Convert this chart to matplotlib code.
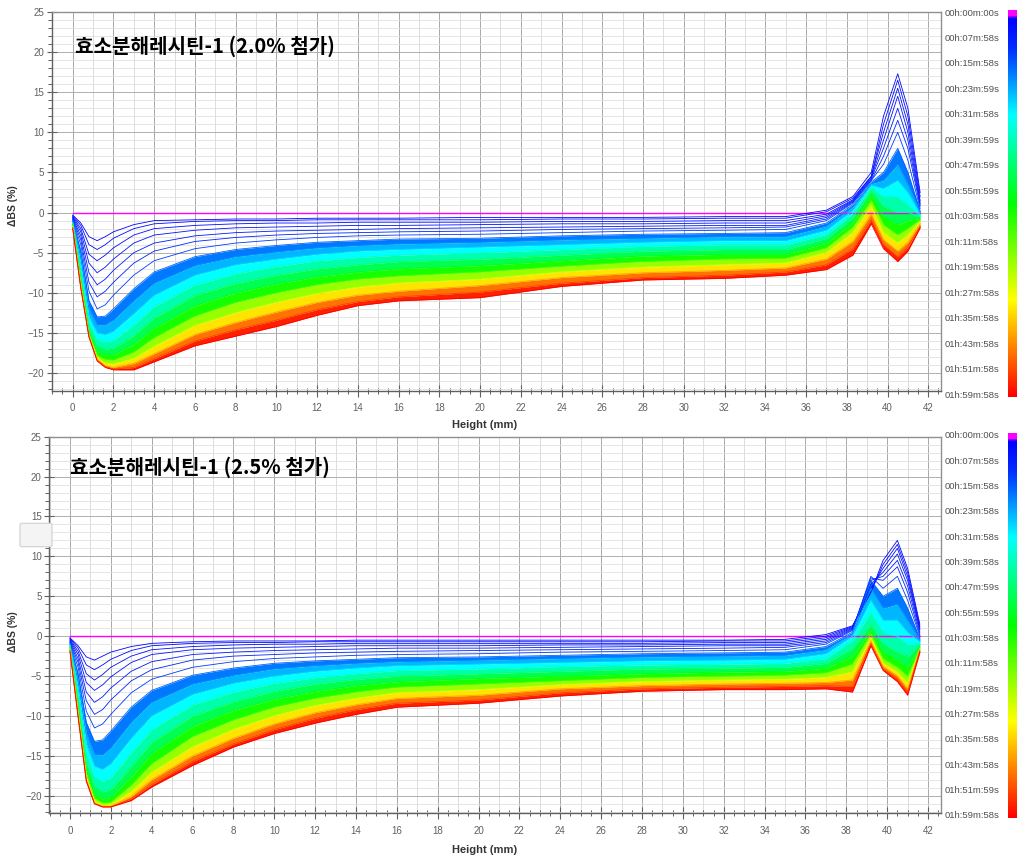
import matplotlib.pyplot as plt
import numpy as np
from matplotlib.colors import LinearSegmentedColormap
from matplotlib.ticker import MultipleLocator
from matplotlib.patches import FancyBboxPatch

# height positions (mm) where the profiles were read
heights = [0, 0.4, 0.8, 1.2, 1.6, 2, 3, 4, 6, 8, 10, 12, 14, 16, 20, 24, 28, 32,
           35, 37, 38.3, 39.2, 39.8, 40.5, 41.0, 41.6]

# scan times (min) and delta-BS profiles, 2.0 % sample
top_times = [0, 1, 2, 3, 4, 6, 8, 11, 15, 20, 27, 35, 45, 55, 68, 85, 100, 112, 120]
top_profiles = [
    [0, 0, 0, 0, 0, 0, 0, 0, 0, 0, 0, 0, 0, 0, 0, 0, 0, 0, 0, 0, 0, 0, 0, 0, 0, 0],
    [-0.3, -1.3, -3.0, -3.5, -3.0, -2.4, -1.5, -1.0, -0.9, -0.8, -0.8, -0.7, -0.7, -0.7, -0.6, -0.6, -0.6, -0.5,
     -0.5, 0.3, 2.0, 5.0, 12.0, 17.3, 13.0, 2.5],
    [-0.4, -1.6, -4.0, -4.6, -4.0, -3.2, -2.0, -1.4, -1.1, -1.0, -1.0, -0.9, -0.9, -0.9, -0.9, -0.8, -0.8, -0.7,
     -0.7, 0.1, 1.8, 4.5, 11.0, 16.5, 12.0, 2.0],
    [-0.5, -2.0, -5.2, -6.0, -5.3, -4.4, -2.8, -2.0, -1.6, -1.4, -1.3, -1.3, -1.2, -1.2, -1.2, -1.1, -1.1, -1.0,
     -1.0, -0.2, 1.6, 4.5, 10.0, 15.5, 11.0, 1.5],
    [-0.6, -2.4, -6.3, -7.5, -6.8, -5.8, -3.8, -2.8, -2.2, -1.9, -1.8, -1.7, -1.6, -1.6, -1.5, -1.4, -1.4, -1.3,
     -1.3, -0.4, 1.5, 4.3, 9.0, 14.5, 10.0, 1.2],
    [-0.7, -2.9, -7.5, -9.0, -8.3, -7.2, -5.0, -3.8, -2.9, -2.5, -2.3, -2.2, -2.1, -2.0, -1.9, -1.8, -1.7, -1.6,
     -1.6, -0.6, 1.4, 4.2, 8.0, 13.0, 9.0, 1.0],
    [-0.8, -3.4, -8.7, -10.5, -9.8, -8.7, -6.3, -4.8, -3.6, -3.1, -2.8, -2.6, -2.5, -2.4, -2.3, -2.1, -2.0, -1.9,
     -1.8, -0.8, 1.3, 4.0, 7.0, 11.5, 8.0, 0.8],
    [-0.9, -4.0, -9.8, -12.0, -11.5, -10.3, -7.8, -6.0, -4.5, -3.8, -3.4, -3.1, -2.9, -2.8, -2.7, -2.5, -2.3, -2.2,
     -2.1, -1.0, 1.2, 4.0, 6.0, 10.0, 6.5, 0.5],
    [-1.0, -4.8, -11.0, -13.0, -12.9, -12.0, -9.5, -7.4, -5.5, -4.6, -4.1, -3.7, -3.5, -3.3, -3.2, -2.9, -2.7, -2.6,
     -2.5, -1.3, 1.0, 3.8, 5.0, 8.0, 5.0, 0.2],
    [-1.1, -5.6, -12.0, -14.0, -14.0, -13.4, -11.0, -8.8, -6.6, -5.5, -4.9, -4.4, -4.1, -3.9, -3.7, -3.4, -3.2, -3.0,
     -3.0, -1.7, 0.7, 3.6, 4.0, 6.0, 3.5, 0.0],
    [-1.2, -6.5, -13.0, -15.0, -15.2, -14.8, -12.6, -10.3, -7.8, -6.5, -5.8, -5.2, -4.8, -4.6, -4.3, -4.0, -3.7, -3.5,
     -3.5, -2.2, 0.3, 3.4, 3.0, 4.0, 2.5, -0.2],
    [-1.3, -7.2, -13.8, -15.8, -16.1, -15.9, -14.0, -11.7, -9.0, -7.6, -6.7, -6.0, -5.6, -5.3, -5.0, -4.6, -4.2, -4.0,
     -4.0, -2.7, -0.1, 3.2, 2.0, 2.0, 1.0, -0.4],
    [-1.4, -7.8, -14.4, -16.6, -17.0, -16.9, -15.3, -13.1, -10.3, -8.8, -7.8, -7.0, -6.5, -6.1, -5.8, -5.3, -4.8, -4.6,
     -4.6, -3.2, -0.6, 2.8, 0.8, 0.0, 0.0, -0.5],
    [-1.5, -8.3, -14.8, -17.3, -17.7, -17.7, -16.4, -14.4, -11.6, -10.0, -8.9, -8.0, -7.4, -7.0, -6.6, -6.0, -5.4, -5.2,
     -5.2, -3.8, -1.2, 2.2, -0.5, -1.5, -1.0, -0.7],
    [-1.6, -8.7, -15.1, -17.8, -18.3, -18.4, -17.4, -15.6, -12.9, -11.2, -10.0, -9.0, -8.3, -7.9, -7.4, -6.7, -6.1, -5.8,
     -5.7, -4.4, -1.8, 1.5, -1.5, -2.8, -2.0, -0.9],
    [-1.7, -9.0, -15.3, -18.1, -18.8, -18.9, -18.2, -16.7, -14.1, -12.5, -11.2, -10.1, -9.3, -8.8, -8.3, -7.4, -6.8, -6.5,
     -6.3, -5.0, -2.5, 0.8, -2.5, -3.8, -2.8, -1.1],
    [-1.8, -9.2, -15.4, -18.3, -19.1, -19.3, -18.8, -17.6, -15.2, -13.7, -12.4, -11.2, -10.3, -9.8, -9.1, -8.1, -7.5, -7.2,
     -6.9, -5.8, -3.6, -0.2, -3.4, -4.8, -3.7, -1.4],
    [-1.9, -9.4, -15.5, -18.4, -19.2, -19.5, -19.3, -18.2, -16.0, -14.6, -13.4, -12.1, -11.1, -10.5, -9.9, -8.8, -8.1, -7.8,
     -7.4, -6.5, -4.5, -0.9, -4.0, -5.5, -4.3, -1.7],
    [-2.0, -9.5, -15.5, -18.5, -19.3, -19.6, -19.6, -18.6, -16.6, -15.4, -14.2, -12.8, -11.6, -11.0, -10.6, -9.2, -8.4, -8.2,
     -7.8, -7.1, -5.3, -1.4, -4.5, -6.1, -4.8, -1.9],
]

# scan times (min) and delta-BS profiles, 2.5 % sample
bottom_times = [0, 1, 2, 3, 4, 6, 8, 11, 15, 20, 27, 35, 45, 55, 68, 85, 100, 112, 120]
bottom_profiles = [
    [0, 0, 0, 0, 0, 0, 0, 0, 0, 0, 0, 0, 0, 0, 0, 0, 0, 0, 0, 0, 0, 0, 0, 0, 0, 0],
    [-0.2, -1.2, -2.6, -3.0, -2.5, -2.0, -1.3, -0.9, -0.7, -0.6, -0.6, -0.6, -0.5, -0.5, -0.5, -0.5, -0.5, -0.5,
     -0.4, 0.2, 1.3, 5.5, 9.5, 12.0, 8.5, 1.5],
    [-0.3, -1.5, -3.6, -4.2, -3.6, -2.9, -1.8, -1.2, -0.9, -0.8, -0.8, -0.7, -0.7, -0.7, -0.7, -0.7, -0.7, -0.6,
     -0.6, 0.0, 1.2, 5.5, 9.0, 11.5, 8.0, 1.2],
    [-0.4, -1.9, -4.7, -5.5, -4.8, -3.9, -2.5, -1.7, -1.3, -1.1, -1.0, -1.0, -0.9, -0.9, -0.9, -0.9, -0.9, -0.8,
     -0.8, -0.2, 1.1, 6.0, 8.5, 11.0, 7.5, 1.0],
    [-0.5, -2.3, -5.8, -6.8, -6.1, -5.1, -3.3, -2.3, -1.7, -1.5, -1.4, -1.3, -1.2, -1.2, -1.2, -1.1, -1.1, -1.0,
     -1.0, -0.4, 1.0, 6.5, 8.0, 10.3, 7.0, 0.8],
    [-0.6, -2.8, -7.0, -8.3, -7.6, -6.5, -4.4, -3.2, -2.3, -2.0, -1.8, -1.7, -1.6, -1.5, -1.5, -1.4, -1.3, -1.2,
     -1.2, -0.6, 0.9, 7.0, 7.5, 9.5, 6.3, 0.5],
    [-0.7, -3.3, -8.1, -9.8, -9.2, -8.0, -5.6, -4.2, -3.0, -2.5, -2.3, -2.1, -2.0, -1.9, -1.8, -1.7, -1.6, -1.5,
     -1.4, -0.8, 0.8, 7.3, 7.0, 8.7, 5.5, 0.2],
    [-0.8, -3.9, -9.4, -11.5, -11.0, -9.8, -7.1, -5.4, -3.9, -3.2, -2.8, -2.6, -2.4, -2.3, -2.2, -2.0, -1.9, -1.8,
     -1.7, -1.0, 0.7, 7.5, 6.0, 7.5, 4.5, 0.0],
    [-0.9, -4.7, -10.8, -13.2, -13.0, -11.9, -8.9, -6.8, -4.9, -4.0, -3.4, -3.1, -2.9, -2.7, -2.6, -2.4, -2.2, -2.1,
     -2.0, -1.3, 0.5, 7.0, 5.0, 6.0, 3.5, -0.3],
    [-1.0, -5.6, -12.2, -14.8, -14.9, -14.0, -10.8, -8.3, -6.0, -4.9, -4.1, -3.7, -3.4, -3.2, -3.0, -2.8, -2.6, -2.5,
     -2.4, -1.7, 0.3, 6.0, 3.5, 4.0, 2.0, -0.5],
    [-1.1, -6.5, -13.5, -16.3, -16.7, -16.0, -12.8, -10.0, -7.3, -5.9, -5.0, -4.4, -4.0, -3.7, -3.5, -3.3, -3.1, -3.0,
     -2.9, -2.2, 0.0, 4.5, 2.0, 2.0, 0.5, -0.7],
    [-1.2, -7.3, -14.7, -17.6, -18.2, -17.7, -14.6, -11.7, -8.6, -7.0, -5.9, -5.2, -4.7, -4.3, -4.1, -3.8, -3.6, -3.5,
     -3.4, -2.8, -0.5, 3.0, 0.5, 0.0, -1.0, -0.9],
    [-1.3, -8.0, -15.8, -18.8, -19.5, -19.2, -16.3, -13.3, -10.0, -8.2, -6.9, -6.0, -5.4, -5.0, -4.7, -4.4, -4.1, -4.0,
     -3.9, -3.4, -1.5, 1.5, -1.0, -2.0, -2.5, -1.1],
    [-1.4, -8.6, -16.6, -19.7, -20.4, -20.2, -17.6, -14.7, -11.3, -9.3, -7.9, -6.9, -6.2, -5.7, -5.3, -5.0, -4.7, -4.5,
     -4.4, -4.0, -2.5, 0.8, -2.0, -3.0, -3.8, -1.3],
    [-1.5, -9.1, -17.2, -20.3, -20.9, -20.8, -18.7, -16.0, -12.6, -10.5, -8.9, -7.8, -7.0, -6.4, -6.0, -5.6, -5.2, -5.0,
     -4.9, -4.6, -3.5, 0.3, -2.8, -3.9, -5.0, -1.5],
    [-1.6, -9.5, -17.6, -20.7, -21.2, -21.1, -19.5, -17.1, -13.9, -11.7, -10.0, -8.7, -7.8, -7.1, -6.7, -6.1, -5.7, -5.5,
     -5.4, -5.2, -4.5, -0.2, -3.4, -4.5, -5.9, -1.6],
    [-1.7, -9.8, -17.9, -20.9, -21.3, -21.3, -20.1, -18.0, -15.0, -12.8, -11.0, -9.6, -8.6, -7.8, -7.4, -6.6, -6.2, -6.0,
     -5.9, -5.8, -5.5, -0.6, -3.8, -5.0, -6.6, -1.7],
    [-1.8, -10.0, -18.1, -21.0, -21.4, -21.4, -20.4, -18.6, -15.7, -13.5, -11.7, -10.3, -9.2, -8.4, -8.0, -7.1, -6.6, -6.4,
     -6.3, -6.2, -6.3, -0.9, -4.1, -5.4, -7.0, -1.8],
    [-1.9, -10.2, -18.2, -21.0, -21.4, -21.4, -20.6, -18.9, -16.2, -13.9, -12.2, -10.9, -9.8, -8.9, -8.4, -7.5, -6.9, -6.7,
     -6.7, -6.6, -7.0, -1.2, -4.3, -5.7, -7.4, -2.0],
]

top_labels = ['00h:00m:00s', '00h:07m:58s', '00h:15m:58s', '00h:23m:59s', '00h:31m:58s',
              '00h:39m:59s', '00h:47m:59s', '00h:55m:59s', '01h:03m:58s', '01h:11m:58s',
              '01h:19m:58s', '01h:27m:58s', '01h:35m:58s', '01h:43m:58s', '01h:51m:58s',
              '01h:59m:58s']
bottom_labels = ['00h:00m:00s', '00h:07m:58s', '00h:15m:58s', '00h:23m:58s', '00h:31m:58s',
                 '00h:39m:58s', '00h:47m:59s', '00h:55m:59s', '01h:03m:58s', '01h:11m:58s',
                 '01h:19m:58s', '01h:27m:58s', '01h:35m:58s', '01h:43m:58s', '01h:51m:59s',
                 '01h:59m:58s']
titles = ['효소분해레시틴-1 (2.0% 첨가)', '효소분해레시틴-1 (2.5% 첨가)']
total_time = 120

cmap = LinearSegmentedColormap.from_list('turbi', [
    (0.0, '#ff00ff'), (0.012, '#ff00ff'), (0.02, '#0000ff'), (0.1, '#0030ff'),
    (0.18, '#0090ff'), (0.27, '#00ffff'), (0.5, '#00ff00'), (0.75, '#ffff00'), (1.0, '#ff0000')])

W, H = 1017, 858
fig = plt.figure(figsize=(W / 100, H / 100), dpi=100)


def draw_panel(ax_px, xlim, times, profiles, title, title_px, labels, cbar_px, ylab_y, xlab_y):
    x0, y0, x1, y1 = ax_px
    ax = fig.add_axes([x0 / W, 1 - y1 / H, (x1 - x0) / W, (y1 - y0) / H])
    h = np.array(heights)
    P = np.array(profiles, dtype=float)
    t = np.array(times, dtype=float)
    cval = np.where(t == 0, 0.0, 0.02 + 0.98 * t / total_time)

    # grid
    for g in np.arange(-1, 43):
        ax.axvline(g, color='#a8a8a8' if g % 2 == 0 else '#dcdcdc', lw=0.7, zorder=0)
    ax.yaxis.set_major_locator(MultipleLocator(5))
    ax.yaxis.set_minor_locator(MultipleLocator(1))
    ax.grid(which='major', axis='y', color='#b0b0b0', lw=0.7, zorder=0)
    ax.grid(which='minor', axis='y', color='#e0e0e0', lw=0.6, zorder=0)
    ax.set_axisbelow(True)

    # dense band between later scans
    for i in range(1, len(t)):
        if t[i - 1] >= 15:
            ax.fill_between(h, P[i - 1], P[i], color=cmap((cval[i - 1] + cval[i]) / 2), lw=0, zorder=2)
    for i in range(len(t)):
        ax.plot(h, P[i], color=cmap(cval[i]), lw=0.6 if t[i] > 0 else 1.0, zorder=3)

    ax.set_xlim(*xlim)
    ax.set_ylim(-22.2, 25)
    ax.xaxis.set_minor_locator(MultipleLocator(0.5))
    ax.set_xticks(np.arange(0, 43, 2))
    ax.tick_params(axis='x', which='major', direction='inout', length=8, width=0.8,
                   color='#606060', labelsize=7, labelcolor='#606060', pad=5)
    ax.tick_params(axis='x', which='minor', direction='inout', length=5, width=0.7, color='#606060')
    ax.tick_params(axis='y', which='major', direction='inout', length=7, width=0.8,
                   color='#606060', labelsize=7, labelcolor='#606060', pad=2)
    ax.tick_params(axis='y', which='minor', direction='out', length=3, width=0.7, color='#606060')
    for s in ['left', 'bottom']:
        ax.spines[s].set_color('#606060')
        ax.spines[s].set_linewidth(1.0)
    for s in ['top', 'right']:
        ax.spines[s].set_color('#909090')
        ax.spines[s].set_linewidth(1.0)
    for lab in ax.get_xticklabels() + ax.get_yticklabels():
        lab.set_family('Liberation Sans')

    fig.text(title_px[0] / W, 1 - title_px[1] / H, title, fontsize=14.5, fontweight='bold',
             family=['Noto Sans CJK KR', 'DejaVu Sans'], va='center', ha='left')
    fig.text(13 / W, 1 - ylab_y / H, 'ΔBS (%)', rotation=90, fontsize=7.5, fontweight='bold',
             color='#333333', va='center', ha='center', family='Liberation Sans')
    fig.text(485 / W, 1 - xlab_y / H, 'Height (mm)', fontsize=8, fontweight='bold',
             color='#333333', va='center', ha='center', family='Liberation Sans')

    # colour scale
    cx0, cy0, cx1, cy1 = cbar_px
    cax = fig.add_axes([cx0 / W, 1 - cy1 / H, (cx1 - cx0) / W, (cy1 - cy0) / H])
    cax.imshow(np.linspace(0, 1, 256).reshape(-1, 1), aspect='auto', cmap=cmap)
    cax.axis('off')
    ys = np.linspace(cy0 + 3, cy1 - 2, len(labels))
    for lab, yy in zip(labels, ys):
        fig.text(945 / W, 1 - yy / H, lab, fontsize=6.8, color='#505050', va='center', ha='left',
                 family='Liberation Sans')
    return ax


draw_panel((51.7, 12, 940.7, 390.7), (-1.03, 42.61), top_times, top_profiles, titles[0],
           (75, 46), top_labels, (1008, 10, 1020, 397), 206, 425)
draw_panel((49.3, 436.7, 940.7, 813.3), (-1.01, 42.62), bottom_times, bottom_profiles, titles[1],
           (70, 467), bottom_labels, (1008, 433, 1020, 818), 632, 850)

# small screenshot artefact at the left edge of the lower panel
fig.patches.append(FancyBboxPatch((22 / W, 1 - 545 / H), 28 / W, 20 / H,
                                  boxstyle='round,pad=0.002', transform=fig.transFigure,
                                  fc='#f4f4f4', ec='#d0d0d0', lw=0.8))

fig.savefig('out.png', dpi=100)
